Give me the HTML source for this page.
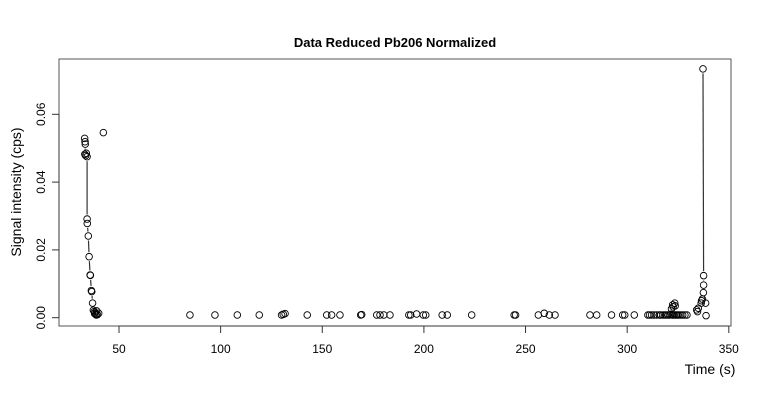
<!DOCTYPE html>
<html><head><meta charset="utf-8"><style>
html,body{margin:0;padding:0;background:#fff;}
svg{display:block;font-family:"Liberation Sans",Arial,sans-serif;}
</style></head><body>
<svg id="chart" width="760" height="400" viewBox="0 0 760 400">
<text x="395" y="47" text-anchor="middle" font-size="13" font-weight="bold">Data Reduced Pb206 Normalized</text>
<rect x="59" y="59" width="672" height="267" fill="none" stroke="#555" stroke-width="1"/>
<text x="710" y="374" text-anchor="middle" font-size="14">Time (s)</text>
<text transform="translate(21,192) rotate(-90)" text-anchor="middle" font-size="14">Signal intensity (cps)</text>
<g id="axes"></g><g id="lines"></g><g id="points"></g>
</svg>
<script>
const xTicks=[50,100,150,200,250,300,350];
const yTicks=[0,0.02,0.04,0.06];
const yTickLabels=["0.00","0.02","0.04","0.06"];
// left run (connected)
const leftT=[33.1,33.3,33.4,33.2,33.6,33.9,34.3,34.3,34.4,34.9,35.3,35.8,35.9,36.4,36.6,37.0,37.4,37.8,38.2,38.0,38.6,39.0,39.4,38.8,40.0];
const leftV=[0.0529,0.0519,0.0512,0.0482,0.0478,0.0485,0.0475,0.0291,0.0278,0.0241,0.0180,0.0126,0.0125,0.0080,0.0077,0.0043,0.0022,0.0018,0.0015,0.0012,0.0010,0.0020,0.0009,0.0008,0.0013];
// isolated outlier
const outT=[42.3];
const outV=[0.0546];
// mid points (unconnected)
const midT=[84.9,97.2,108.2,119.0,130.0,130.8,131.7,142.6,152.2,154.6,158.7,168.9,169.4,176.8,178.4,180.3,183.3,192.6,193.5,196.4,199.7,200.9,209.0,211.5,223.5,244.4,245.1,256.3,259.2,261.7,264.5,281.7,285.0,292.3,297.8,298.8,303.5];
const midV=[0.0008,0.0008,0.0008,0.0008,0.0008,0.0010,0.0012,0.0008,0.0008,0.0008,0.0008,0.0008,0.0009,0.0008,0.0008,0.0008,0.0008,0.0008,0.0008,0.0011,0.0008,0.0008,0.0008,0.0008,0.0008,0.0008,0.0008,0.0008,0.0013,0.0008,0.0008,0.0008,0.0008,0.0008,0.0008,0.0008,0.0008];
// right cluster (unconnected)
const rightT=[310.2,311.0,312.0,313.2,314.5,315.8,316.5,317.6,318.5,319.2,320.0,320.8,321.5,322.2,322.8,323.5,324.2,324.8,325.5,326.4,327.3,328.4,329.4,321.8,322.6,323.4,322.4,323.6,334.2,334.6,335.0,338.8];
const rightV=[0.0008,0.0008,0.0008,0.0008,0.0008,0.0008,0.0008,0.0008,0.0008,0.0008,0.0008,0.0008,0.0010,0.0008,0.0008,0.0008,0.0008,0.0008,0.0008,0.0008,0.0008,0.0008,0.0008,0.0026,0.0032,0.0043,0.0038,0.0035,0.0023,0.0018,0.0028,0.0006];
// right spike run (connected)
const spikeT=[336.4,336.6,337.0,338.6,337.5,337.6,337.6];
const spikeV=[0.0043,0.0050,0.0055,0.0043,0.0074,0.0096,0.0124];
const spikeTopT=[337.3];
const spikeTopV=[0.0734];

const NS="http://www.w3.org/2000/svg";
const X=t=>119+(t-50)*2.0327;
const Y=v=>317.7-v*3390;
function mk(tag,attrs,parent){const e=document.createElementNS(NS,tag);for(const k in attrs)e.setAttribute(k,attrs[k]);parent.appendChild(e);return e;}
const axes=document.getElementById('axes'),lines=document.getElementById('lines'),pts=document.getElementById('points');
let xl=mk('line',{x1:X(50),x2:X(350),y1:326,y2:326,stroke:'#333'},axes);


xTicks.forEach(t=>{
 const tk=mk('line',{x1:X(t),x2:X(t),y1:326,y2:333,stroke:'#333'},axes);
 
 
 const tx=mk('text',{x:X(t),y:353,'text-anchor':'middle','font-size':12},axes);
 tx.textContent=t;
 
 
});
let yl=mk('line',{x1:59,x2:59,y1:Y(0),y2:Y(0.06),stroke:'#333'},axes);


yTicks.forEach((v,i)=>{
 const tk=mk('line',{x1:52,x2:59,y1:Y(v),y2:Y(v),stroke:'#333'},axes);
 
 
 const tx=mk('text',{transform:`translate(45,${Y(v)}) rotate(-90)`,'text-anchor':'middle','font-size':12},axes);
 tx.textContent=yTickLabels[i];
 
 
});
function drawLines(T,V){
 for(let i=0;i<T.length-1;i++){
  const x1=X(T[i]),y1=Y(V[i]),x2=X(T[i+1]),y2=Y(V[i+1]);
  const d=Math.hypot(x2-x1,y2-y1),g=4.5;
  if(d<=2*g)continue;
  const ux=(x2-x1)/d,uy=(y2-y1)/d;
  const l=mk('line',{x1:x1+ux*g,y1:y1+uy*g,x2:x2-ux*g,y2:y2-uy*g,stroke:'#333','stroke-width':1.2},lines);
  
  
 }
}
function drawPts(T,V){
 T.forEach((t,i)=>{
  const c=mk('circle',{cx:X(t),cy:Y(V[i]),r:3.3,fill:'none',stroke:'#000','stroke-width':0.9},pts);
  
  
 });
}
drawLines(leftT,leftV);
drawLines(spikeT.concat(spikeTopT),spikeV.concat(spikeTopV));
[[leftT,leftV],[outT,outV],[midT,midV],[rightT,rightV],[spikeT,spikeV],[spikeTopT,spikeTopV]].forEach(p=>drawPts(p[0],p[1]));
</script>
</body></html>
